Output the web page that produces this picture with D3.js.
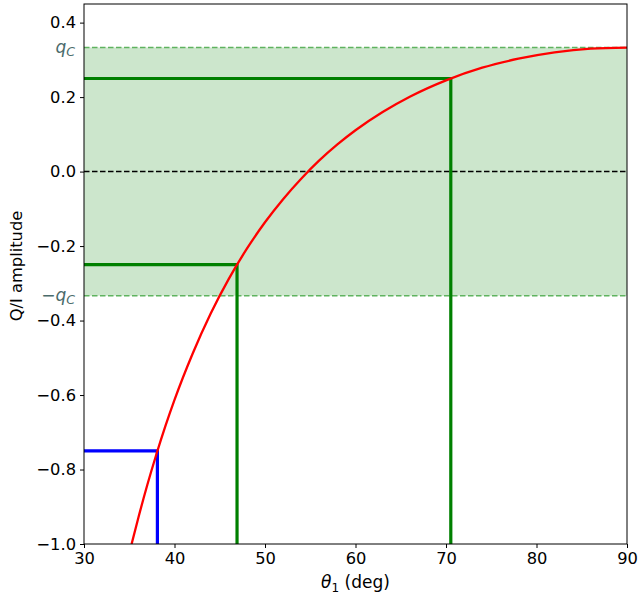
<!DOCTYPE html>
<html><head><meta charset="utf-8">
<script src="https://cdn.jsdelivr.net/npm/d3@7"></script>
<style>body{margin:0;background:#fff}svg{display:block;font-family:"DejaVu Sans",sans-serif}</style>
</head><body><svg id="c" width="638" height="601"></svg>
<script>
// Red curve: theta (deg) vs Q/I amplitude
const thetaDeg = [35.26, 36, 37, 38, 39, 40, 42, 44, 46, 48, 50, 52, 54, 56, 58, 60, 63, 66, 70, 74, 78, 82, 86, 90];
const amplitude = [-1.0, -0.930, -0.841, -0.759, -0.683, -0.613, -0.489, -0.381, -0.288, -0.207, -0.136, -0.074, -0.019, 0.030, 0.073, 0.111, 0.160, 0.201, 0.245, 0.279, 0.303, 0.320, 0.330, 0.333];
const qc = 0.3333;
// Green markers (level, theta)
const greenLevels = [0.25, -0.25];
const greenThetas = [70.53, 46.91];
// Blue marker
const blueLevels = [-0.75];
const blueThetas = [38.11];
const xTicks = [30, 40, 50, 60, 70, 80, 90];
const yTicks = [0.4, 0.2, 0.0, -0.2, -0.4, -0.6, -0.8, -1.0];

const svg = d3.select("#c");
const L = 84, R = 627, T = 4, B = 544;
const x = d3.scaleLinear().domain([30, 90]).range([L, R]);
const y = d3.scaleLinear().domain([-1.0, 0.45]).range([B, T]);

svg.append("defs").append("clipPath").attr("id", "clip")
  .append("rect").attr("x", L).attr("y", T).attr("width", R - L).attr("height", B - T);
const g = svg.append("g").attr("clip-path", "url(#clip)");

// shaded band
g.append("rect").attr("x", x(30)).attr("width", x(90) - x(30))
  .attr("y", y(qc)).attr("height", y(-qc) - y(qc)).attr("fill", "#cce6cc");
[qc, -qc].forEach(v => {
  g.append("line").attr("x1", x(30)).attr("x2", x(90)).attr("y1", y(v)).attr("y2", y(v))
    .attr("stroke", "#5fb35f").attr("stroke-width", 1.5).attr("stroke-dasharray", "5.5,2.5");
});
g.append("line").attr("x1", x(30)).attr("x2", x(90)).attr("y1", y(0)).attr("y2", y(0))
  .attr("stroke", "#000").attr("stroke-width", 1.5).attr("stroke-dasharray", "5.5,2.5");

function marker(level, th, color) {
  g.append("path")
    .attr("d", `M${x(30)},${y(level)}L${x(th)},${y(level)}L${x(th)},${y(-1.0)}`)
    .attr("fill", "none").attr("stroke", color).attr("stroke-width", 3.2);
}
greenLevels.forEach((v, i) => marker(v, greenThetas[i], "#008000"));
blueLevels.forEach((v, i) => marker(v, blueThetas[i], "#0000ff"));

const pts = thetaDeg.map((t, i) => [t, amplitude[i]]);
g.append("path").datum(pts)
  .attr("d", d3.line().x(d => x(d[0])).y(d => y(d[1])).curve(d3.curveMonotoneX))
  .attr("fill", "none").attr("stroke", "#ff0000").attr("stroke-width", 2.3);

// axes
const fmt = d => d3.format(".1f")(d).replace("-", "\u2212");
const xa = svg.append("g").attr("transform", `translate(0,${B})`)
  .call(d3.axisBottom(x).tickValues(xTicks).tickFormat(d3.format("d")).tickSize(4).tickPadding(4));
const ya = svg.append("g").attr("transform", `translate(${L},0)`)
  .call(d3.axisLeft(y).tickValues(yTicks).tickFormat(fmt).tickSize(4).tickPadding(4));
[xa, ya].forEach(a => {
  a.selectAll("text").attr("font-size", 16.3).attr("fill", "#000").attr("font-family", "DejaVu Sans");
  a.select(".domain").remove();
  a.selectAll("line").attr("stroke", "#000").attr("stroke-width", 1);
});
svg.append("rect").attr("x", L).attr("y", T).attr("width", R - L).attr("height", B - T)
  .attr("fill", "none").attr("stroke", "#000").attr("stroke-width", 1);

// q_c labels
function qlabel(v, neg) {
  const t = svg.append("text").attr("x", 75).attr("y", y(v)).attr("dy", "0.32em")
    .attr("text-anchor", "end").attr("font-size", 17).attr("fill", "#4a6b6b").attr("font-family", "DejaVu Sans");
  if (neg) t.append("tspan").text("\u2212");
  t.append("tspan").attr("font-style", "italic").text("q");
  t.append("tspan").attr("font-style", "italic").attr("font-size", 12.5).attr("dy", "3").text("C");
}
qlabel(qc, false);
qlabel(-qc, true);

// axis titles
const xl = svg.append("text").attr("x", (L + R) / 2).attr("y", 588).attr("text-anchor", "middle")
  .attr("font-size", 17).attr("fill", "#000");
xl.append("tspan").attr("font-style", "italic").text("\u03b8");
xl.append("tspan").attr("font-size", 12).attr("dy", 4).text("1");
xl.append("tspan").attr("dy", -4).text(" (deg)");
svg.append("text").attr("transform", `translate(22,266) rotate(-90)`)
  .attr("text-anchor", "middle").attr("font-size", 16.3).attr("fill", "#000").text("Q/I amplitude");
</script></body></html>
